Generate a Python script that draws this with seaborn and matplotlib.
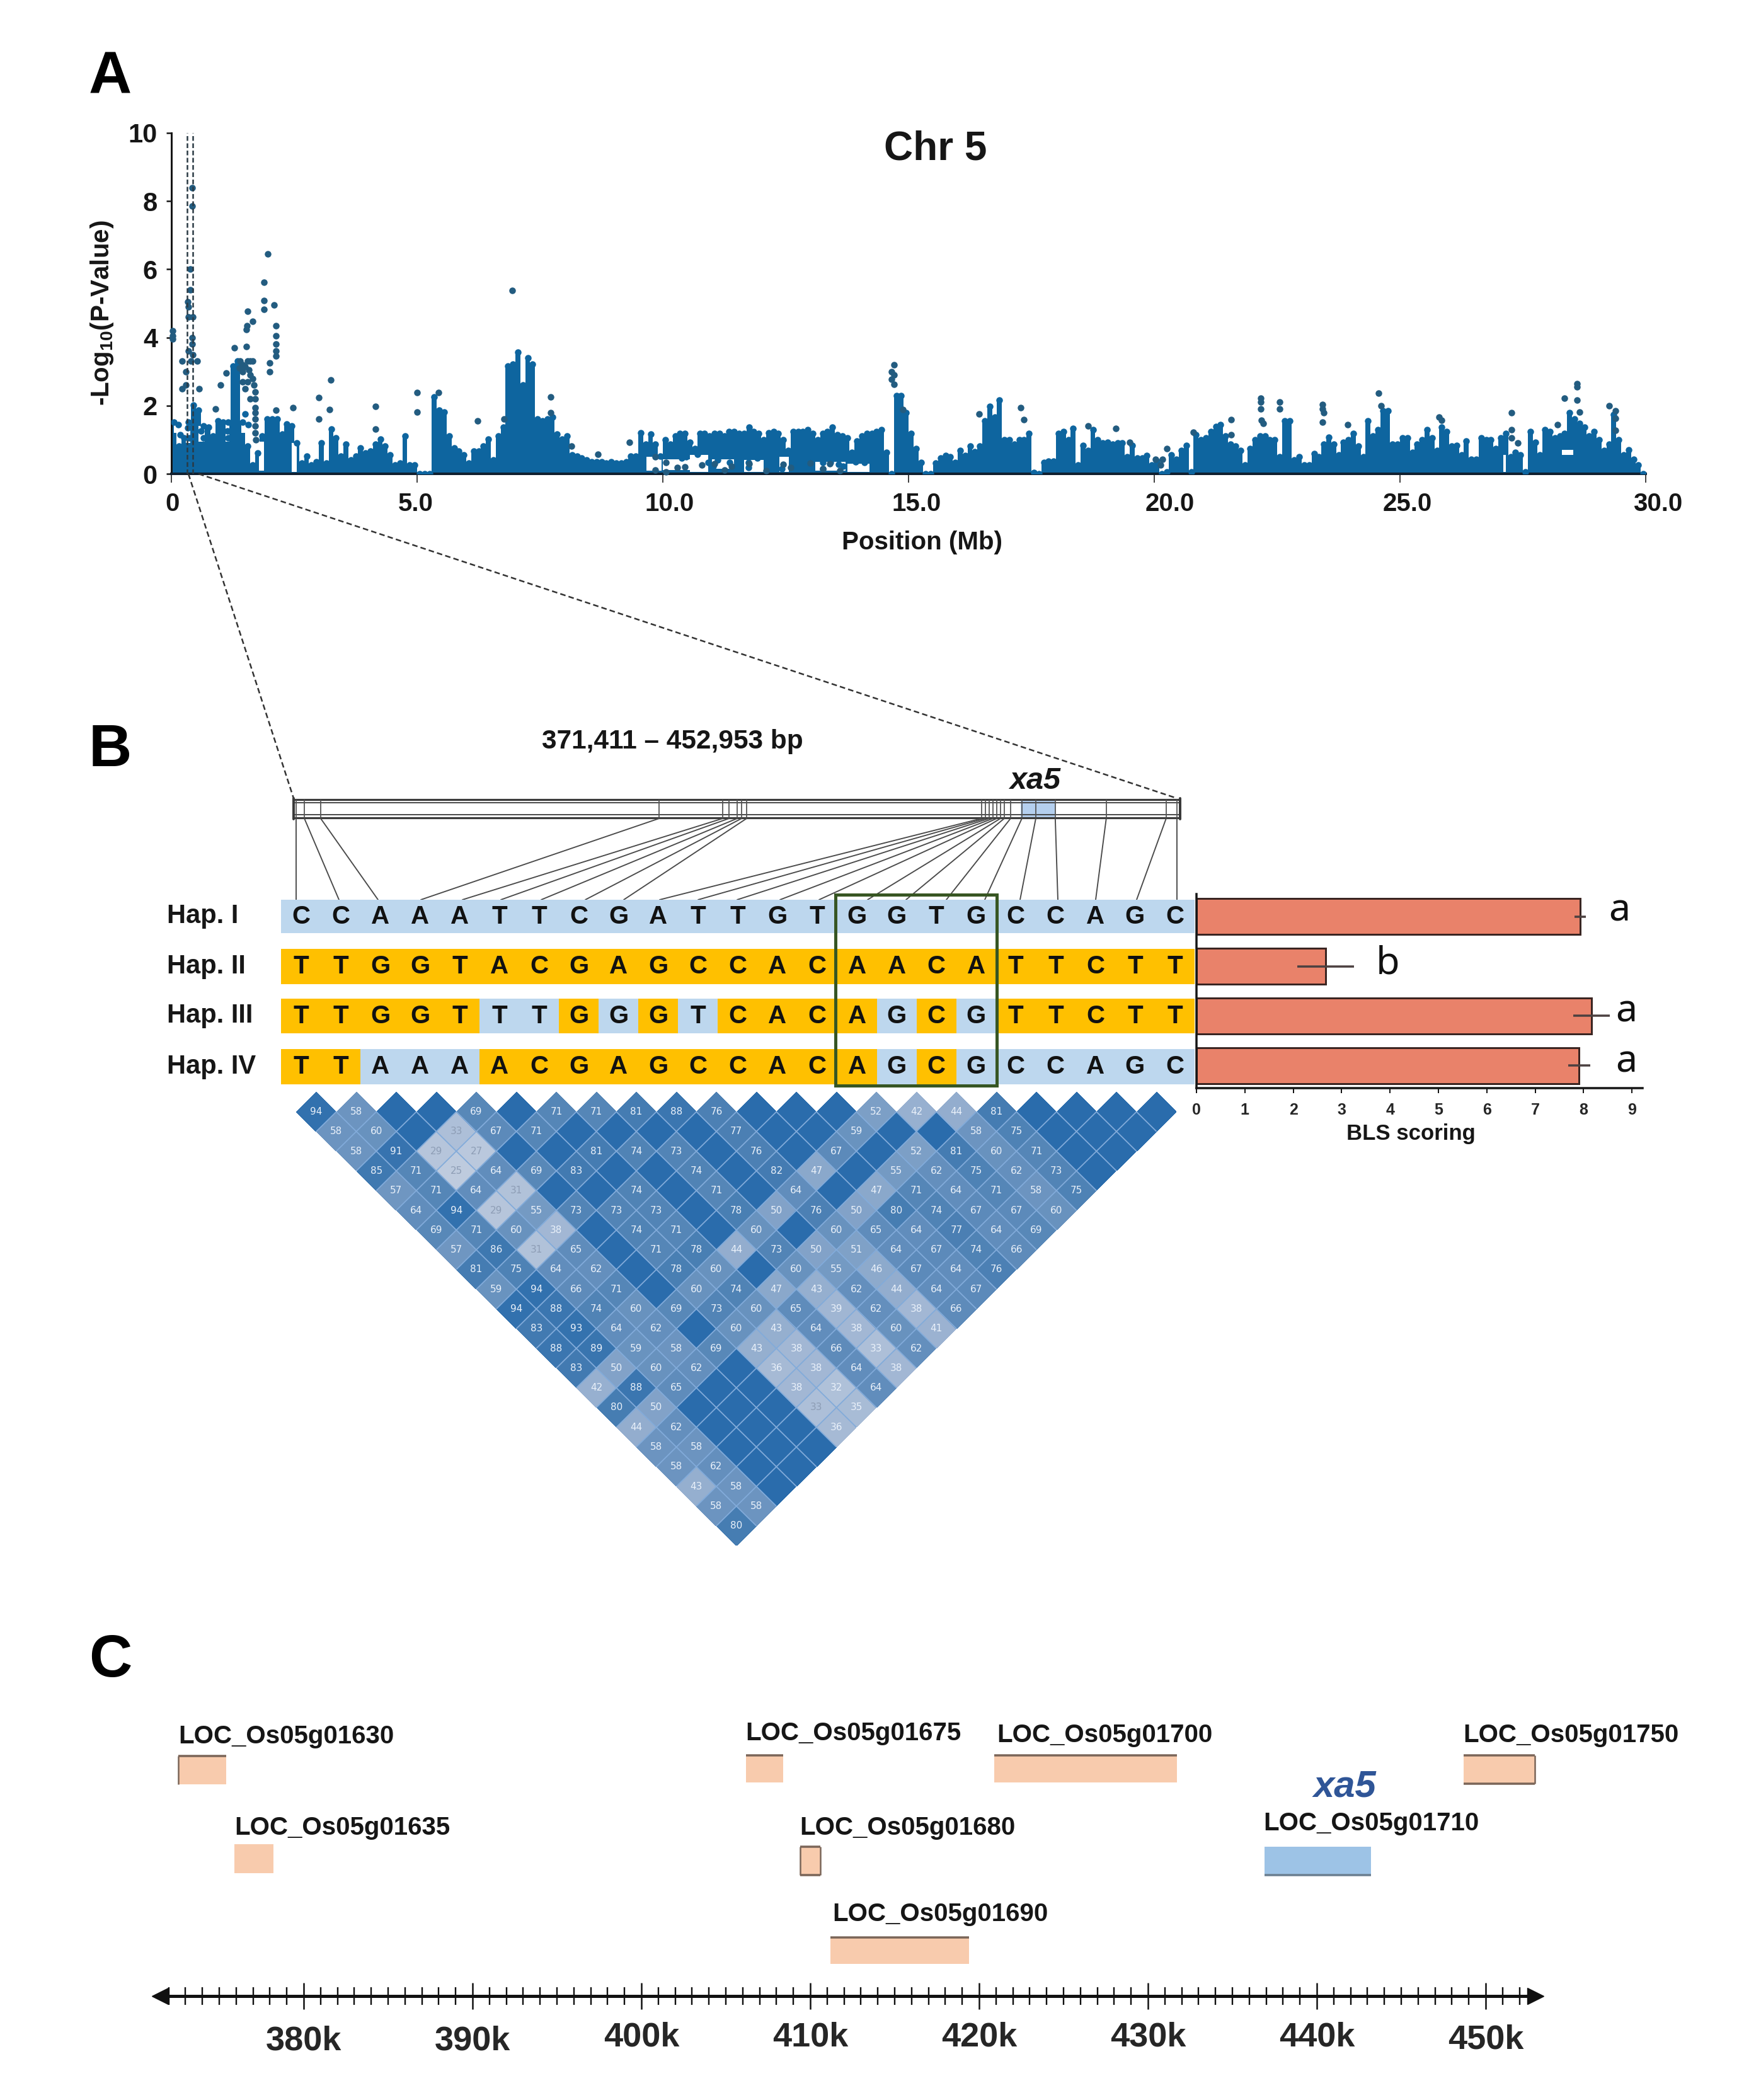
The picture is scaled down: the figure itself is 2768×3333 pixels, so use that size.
import numpy as np
import pandas as pd
import matplotlib
matplotlib.use("Agg")
import matplotlib.pyplot as plt
from matplotlib.colors import LinearSegmentedColormap, ListedColormap
from matplotlib.patches import Rectangle
from matplotlib.transforms import Affine2D, ScaledTranslation
import seaborn as sns

# ---------- Panel A data ----------
envelope = [
 1.60,0.90,1.15,1.60,2.10,1.95,1.50,1.45,1.20,1.65,
 1.60,1.60,3.25,3.40,1.60,0.90,0.35,0.70,1.20,1.70,
 1.70,1.70,1.25,1.55,1.50,1.00,.40,.60,.35,.45,
 1.00,.40,1.40,1.15,.60,.95,.50,.60,.85,.70,
 .75,.95,1.10,.90,.65,.35,.40,1.20,.35,.35,
 .03,.03,.03,2.35,1.95,1.90,1.20,.85,.75,.65,
 .40,.75,.75,.90,1.10,.50,1.20,1.45,3.25,3.30,
 3.65,2.70,3.50,3.30,1.70,1.65,1.70,1.75,1.25,1.10,
 1.20,.65,.60,.55,.50,.45,.45,.45,.40,.45,
 .40,.40,.45,.60,.60,1.30,.95,1.25,.95,.60,
 1.08,.96,1.20,1.27,1.27,1.02,.83,1.27,1.27,1.20,
 1.27,1.27,1.20,1.33,1.33,1.27,1.27,1.45,1.33,1.27,
 1.08,1.30,1.33,1.27,1.08,.77,1.33,1.33,1.33,1.39,
 1.27,1.08,1.27,1.33,1.45,1.23,1.20,1.14,.71,1.05,
 1.20,1.27,1.27,1.33,1.39,.71,.09,2.38,2.38,1.88,
 1.27,.83,.43,.09,.09,.40,.56,.62,.59,.43,
 .77,.62,.90,.74,.90,1.64,2.07,1.76,2.25,1.08,
 1.08,.96,1.08,1.08,1.27,.12,.06,.43,.46,.46,
 1.27,1.33,1.08,1.42,.34,.93,.77,1.39,1.08,.99,
 1.02,.96,.99,.99,.59,.93,.56,.56,.62,.34,
 .46,.09,.15,.65,.52,.77,.93,.15,1.23,1.08,
 1.14,1.33,1.48,1.54,1.20,.96,.90,.77,.34,.83,
 1.08,1.20,1.20,1.08,1.08,.59,1.64,1.64,.49,.59,
 .34,.34,.68,.59,.96,1.17,.96,.65,1.02,1.08,
 1.27,.90,.59,1.64,1.20,1.39,1.94,1.94,.96,.96,
 1.14,1.14,.71,.96,1.08,1.39,1.14,.77,1.45,1.33,
 .90,.93,.65,1.05,.52,.52,1.14,1.08,1.08,.83,
 1.14,1.27,.59,.71,.65,.15,1.33,1.02,.65,1.39,
 1.33,1.14,1.20,1.27,1.88,1.70,1.57,1.45,1.20,1.33,
 1.08,.77,.96,1.82,1.08,.65,.80,.52,.34,.09]

peak_pos = [1.96,1.89,1.89,1.89,2.09,2.13,2.13,2.13,2.13,2.13,2.00,2.00,1.55,1.54,1.53,1.66,1.28,1.53,
 6.94,.03,.03,.03,.42,.42,.38,.38,.33,.35,.42,.42,.40,.52,.22,.22,.56,.30,.30,.34,.44,.34,.44,
 3.24,3.00,3.22,3.00,4.16,4.16,5.00,5.00,5.43,6.23,6.77,7.72,7.72,2.47,2.13,1.00,1.12,.90,
 1.40,1.38,1.45,1.50,1.45,1.55,1.60,1.65,1.58,1.60,1.65,1.68,1.70,1.70,1.60,1.70,1.70,1.70,1.70,1.70,1.72,1.45,1.50,1.55,
 8.14,8.68,9.32,9.84,9.84,10.06,10.06,10.30,10.45,10.8,11.05,11.25,11.4,11.75,12.1,12.45,12.6,13.0,13.25,13.4,13.6,
 14.71,14.65,14.71,14.65,14.71,14.88,17.28,17.34,16.43,18.65,19.22,19.50,20.03,20.17,20.13,20.25,20.79,
 21.56,21.56,22.17,22.17,22.17,22.18,22.22,22.55,22.55,24.56,24.61,23.42,23.42,23.45,23.42,23.93,
 27.27,27.27,27.27,27.40,28.35,28.60,28.60,28.60,28.66,28.20,29.25,29.38,29.38,29.38,25.80,25.85]
peak_val = [6.46,5.62,5.08,4.83,4.96,4.34,4.04,3.80,3.60,3.45,3.25,3.00,4.76,4.34,4.24,4.47,3.70,3.74,
 5.38,4.20,3.95,4.05,7.85,8.40,5.40,6.00,5.05,4.60,4.00,3.80,3.30,3.30,3.30,2.50,2.50,3.00,2.60,3.60,4.60,4.90,3.50,
 2.75,2.23,1.88,1.60,1.98,1.32,2.38,1.81,2.38,1.56,1.60,2.25,1.80,1.94,1.86,2.60,2.95,1.90,
 3.30,3.10,3.20,3.15,3.00,3.30,3.30,3.30,3.05,2.90,2.80,2.60,2.40,2.20,2.20,1.95,1.80,1.60,1.40,1.20,1.00,2.70,2.50,2.70,
 .82,.57,.93,.50,.12,.34,.06,.19,.20,.25,.30,.12,.22,.30,.10,.28,.18,.32,.15,.30,.10,
 3.20,3.00,2.90,2.78,2.62,1.88,1.94,1.59,1.76,1.41,1.34,.93,.43,.43,.25,.74,1.22,
 1.59,1.14,2.22,2.10,1.91,1.57,1.48,2.10,1.91,2.36,1.99,2.04,1.91,1.79,1.51,1.45,
 1.80,1.30,1.05,.90,2.22,2.65,2.56,2.16,1.82,1.45,2.00,1.85,1.62,1.27,1.67,1.58]

# points hanging below the dense band between 10 and 14.5 Mb
band_pos = [10.39,10.48,10.70,10.92,11.02,11.12,11.36,11.55,11.74,11.74,11.92,12.18,12.25,12.42,12.73,12.83,
            13.02,13.02,13.26,13.26,13.41,13.58,13.67,13.92,14.10,14.30,14.40,
            0.14,0.18,0.33,0.36,0.60,0.66,1.14,1.16,1.50,1.56]
band_val = [.46,.50,.58,.34,.22,.40,.34,.44,.34,.19,.46,.22,.34,.15,.43,.22,
            .34,.15,.34,.15,.34,.28,.22,.36,.33,.28,.15,
            1.45,1.15,1.35,1.05,1.25,1.05,1.25,1.05,1.75,1.45]

hole_start = [0.05,0.30,0.55,1.10,1.42,1.78,2.45,9.67,10.00,10.55,11.00,11.65,12.37,13.10,13.75,27.10,27.50,28.30]
hole_end   = [0.12,0.38,0.68,1.18,1.60,1.88,2.55,9.98,10.55,10.92,11.45,12.05,12.56,13.72,14.20,27.16,27.58,28.52]
hole_low   = [1.20,0.90,0.95,0.95,1.20,0.10,0.05,0.10,0.12,0.05,0.15,0.05,0.05,0.10,0.05,0.05,0.05,0.55]
hole_high  = [2.00,1.60,1.40,1.45,2.20,0.95,0.90,0.50,0.42,0.55,0.42,0.40,0.50,0.35,0.30,0.55,0.60,0.70]

chrom_ticks = [0, 5, 10, 15, 20, 25, 30]
chrom_labels = ["0", "5.0", "10.0", "15.0", "20.0", "25.0", "30.0"]
p_ticks = [0, 2, 4, 6, 8, 10]
region_mb = [0.315, 0.44]

# ---------- Panel B data ----------
hap_names = ["Hap. I", "Hap. II", "Hap. III", "Hap. IV"]
hap_seqs = ["CCAAATTCGATTGTGGTGCCAGC",
            "TTGGTACGAGCCACAACATTCTT",
            "TTGGTTTGGGTCACAGCGTTCTT",
            "TTAAAACGAGCCACAGCGCCAGC"]
bls_mean = [7.93, 2.67, 8.16, 7.91]
bls_err = [0.12, 0.59, 0.38, 0.23]
bls_group = ["a", "b", "a", "a"]
bls_ticks = list(range(10))
snp_kb = [371.64,372.40,373.90,405.03,410.88,411.46,412.21,412.62,413.08,
          434.69,435.04,435.39,435.74,436.08,436.43,436.78,437.36,438.40,
          439.68,441.47,446.16,451.67,452.66]
region_kb = [371.411, 452.953]
xa5_kb = [438.3, 441.5]

ld_rows = [
 [94,58,100,100,69,100,71,71,81,88,76,100,100,100,52,42,44,81,100,100,100,100],
 [58,60,100,33,67,71,100,100,100,100,77,100,100,59,100,100,58,75,100,100,100],
 [58,91,29,27,100,100,81,74,73,100,76,100,67,100,52,81,60,71,100,100],
 [85,71,25,64,69,83,100,100,74,100,82,47,100,55,62,75,62,73,100],
 [57,71,64,31,100,100,74,100,71,100,64,100,47,71,64,71,58,75],
 [64,94,29,55,73,73,73,100,78,50,76,50,80,74,67,67,60],
 [69,71,60,38,100,74,71,100,60,100,60,65,64,77,64,69],
 [57,86,31,65,100,71,78,44,73,50,51,64,67,74,66],
 [81,75,64,62,100,78,60,100,60,55,46,67,64,76],
 [59,94,66,71,100,60,74,47,43,62,44,64,67],
 [94,88,74,60,69,73,60,65,39,62,38,66],
 [83,93,64,62,100,60,43,64,38,60,41],
 [88,89,59,58,69,43,38,66,33,62],
 [83,50,60,62,100,36,38,64,38],
 [42,88,65,100,100,38,32,64],
 [80,50,100,100,100,33,35],
 [44,62,100,100,100,36],
 [58,58,100,100,100],
 [58,62,100,100],
 [43,58,100],
 [58,58],
 [80]]

# ---------- Panel C data ----------
gene_names = ["LOC_Os05g01630","LOC_Os05g01635","LOC_Os05g01675","LOC_Os05g01680",
              "LOC_Os05g01690","LOC_Os05g01700","LOC_Os05g01710","LOC_Os05g01750"]
gene_start = [372.57,375.90,406.20,409.40,411.20,420.90,436.90,448.70]
gene_end   = [375.41,378.20,408.40,410.60,419.40,431.70,443.20,452.90]
scale_major = [380,390,400,410,420,430,440,450]
scale_labels = ["380k","390k","400k","410k","420k","430k","440k","450k"]

# ---------- Layout (pixels in the 2768x3333 figure) ----------
W, H = 2768, 3333
DPI = 100
sns.set_style("white")
plt.rcParams["font.family"] = ["Liberation Sans", "DejaVu Sans"]
plt.rcParams["mathtext.fontset"] = "custom"
plt.rcParams["mathtext.bf"] = "Liberation Sans:bold"
plt.rcParams["mathtext.rm"] = "Liberation Sans:bold"
INK = "#161616"

fig = plt.figure(figsize=(W / DPI, H / DPI), dpi=DPI, facecolor="white")

def add_px_axes(x0, y0, x1, y1):
    return fig.add_axes([x0 / W, 1 - y1 / H, (x1 - x0) / W, (y1 - y0) / H])

def px(v):
    return v * 72 / DPI

def shift(label, dx=0, dy=0):
    label.set_transform(label.get_transform() +
                        ScaledTranslation(dx / DPI, -dy / DPI, fig.dpi_scale_trans))

# ---------- Panel A ----------
axA = add_px_axes(272, 211, 2612, 752)
MASS = "#0E659F"
DOT = "#235C80"
bin_x = np.arange(len(envelope)) * 0.1
env = np.array(envelope)
top = np.clip(env - 0.09, 0, None)
axA.bar(bin_x, top, width=0.1, align="edge", color=MASS, linewidth=0, zorder=1)
for s, e, lo, hi in zip(hole_start, hole_end, hole_low, hole_high):
    axA.add_patch(Rectangle((s, lo), e - s, hi - lo, fc="white", ec="none", zorder=2))
sns.scatterplot(x=bin_x + 0.05, y=top, s=px(10.5) ** 2, color=MASS, linewidth=0, ax=axA, zorder=3, clip_on=True)
sns.scatterplot(x=band_pos, y=band_val, s=px(10.5) ** 2, color=MASS, linewidth=0, ax=axA, zorder=3, clip_on=True)
sns.scatterplot(x=peak_pos, y=peak_val, s=px(10.5) ** 2, color=DOT, linewidth=0, ax=axA, zorder=4, clip_on=False)
for r in region_mb:
    axA.plot([r, r], [0, 10], color="#2b3a44", lw=px(2.5), dashes=(3, 1.6), zorder=5)
axA.set_xlim(0, 30)
axA.set_ylim(0, 10)
axA.set_xticks(chrom_ticks, chrom_labels)
axA.set_yticks(p_ticks, [str(t) for t in p_ticks])
axA.tick_params(axis="x", length=px(14), width=px(2), pad=px(15), labelsize=29, bottom=True, color="#444")
axA.tick_params(axis="y", length=px(8), width=px(2.5), pad=px(14), labelsize=30, left=True, color=INK)
for lab in axA.get_xticklabels() + axA.get_yticklabels():
    lab.set_fontweight("bold")
    lab.set_color(INK)
for lab, dx in zip(axA.get_xticklabels(), [2, -2, 11, 13, 25, 12, 19]):
    shift(lab, dx=dx)
sns.despine(ax=axA)
axA.spines["left"].set_linewidth(px(3))
axA.spines["left"].set_color(INK)
axA.spines["bottom"].set_linewidth(px(4))
axA.spines["bottom"].set_color("#102030")
axA.patch.set_alpha(0)

# ---------- Overlay axes for annotation ----------
ov = fig.add_axes([0, 0, 1, 1], zorder=0)
ov.set_xlim(0, W)
ov.set_ylim(H, 0)
ov.axis("off")

def kb_to_px(k):
    return 466 + (np.asarray(k) - region_kb[0]) / (region_kb[1] - region_kb[0]) * 1407

def T(x, y, s, size, ha="center", va="center", weight="bold", style="normal", color=INK, family=None, rot=0):
    kw = {"family": family} if family else {}
    ov.text(x, y, s, fontsize=size, ha=ha, va=va, fontweight=weight, fontstyle=style,
            color=color, rotation=rot, **kw)

T(175, 124, "A", 68, color="#000000")
T(175, 1192, "B", 68, color="#000000")
T(175, 2637, "C", 68, color="#000000")
T(1485, 236, "Chr 5", 46)
T(162, 497, r"-Log$_{\mathbf{10}}$(P-Value)", 29, rot=90)
T(1463, 861, "Position (Mb)", 29)
T(1067, 1177, "371,411 \u2013 452,953 bp", 30.5)
T(1643, 1240, "xa5", 35, style="italic")
T(2239, 1800, "BLS scoring", 25)

# zoom guides
dash_kw = dict(color="#333333", lw=px(2.5), dashes=(3.5, 2))
ov.plot([299, 466], [752, 1267], **dash_kw)
ov.plot([315, 1868], [752, 1267], **dash_kw)

# region bar
x0, x1 = kb_to_px(region_kb)
ov.add_patch(Rectangle((x0, 1269), x1 - x0, 28, fc="white", ec="none"))
ov.add_patch(Rectangle((kb_to_px(xa5_kb[0]), 1269), kb_to_px(xa5_kb[1]) - kb_to_px(xa5_kb[0]), 28,
                       fc="#B4CFEE", ec="none"))
for yy in (1269, 1274, 1293, 1298):
    ov.plot([x0, x1], [yy, yy], color="#3a3a3a", lw=px(3.2 if yy in (1269, 1298) else 1.8), solid_capstyle="butt")
for xx in (x0, x1):
    ov.plot([xx, xx], [1267, 1300], color="#3a3a3a", lw=px(4))

# links from SNP positions to haplotype columns
link_top = [470,538,600,668,734,795,859,929,990,1047,1108,1170,1238,1300,
            1377,1438,1502,1563,1619,1679,1739,1804,1868]
for k, t in zip(snp_kb, link_top):
    sx = kb_to_px(k)
    ov.plot([sx, sx], [1270, 1297], color="#555555", lw=px(1.8))
    ov.plot([sx, t], [1299, 1428], color="#4a4a4a", lw=px(1.9))

# haplotype rows
blue, orange = "#BDD7EE", "#FFC000"
band_y = [(1428, 1481), (1506, 1562), (1585, 1640), (1665, 1721)]
reference = hap_seqs[0]
for name, seq, (ya, yb) in zip(hap_names, hap_seqs, band_y):
    ax = add_px_axes(446, ya, 1896, yb)
    state = np.array([[int(c != r) for c, r in zip(seq, reference)]])
    sns.heatmap(state, annot=np.array([list(seq)]), fmt="", cmap=ListedColormap([blue, orange]),
                vmin=0, vmax=1, cbar=False, ax=ax, xticklabels=False, yticklabels=False,
                annot_kws={"fontsize": 29, "fontweight": "bold", "color": "#111111"})
    T(265, (ya + yb) / 2, name, 30, ha="left")

# green selection box (drawn above the haplotype axes)
top_ov = fig.add_axes([0, 0, 1, 1], zorder=5)
top_ov.set_xlim(0, W)
top_ov.set_ylim(H, 0)
top_ov.axis("off")
top_ov.add_patch(Rectangle((1326, 1420), 256, 303, fc="none", ec="#375623", lw=px(5)))

# BLS bars
axB = add_px_axes(1899, 1419, 2607, 1727)
bls_df = pd.DataFrame({"hap": hap_names, "score": bls_mean})
sns.barplot(data=bls_df, x="score", y="hap", orient="h", color="#E9826A", saturation=1, width=0.72,
            edgecolor="#3a2522", linewidth=px(3), errorbar=None, ax=axB)
axB.errorbar(bls_mean, range(4), xerr=bls_err, fmt="none", ecolor="#4b4040", elinewidth=px(3.5))
axB.set_xlim(0, (2607 - 1899) / 76.8)
axB.set_ylim(3.45, -0.45)
axB.set_xticks(bls_ticks, [str(t) for t in bls_ticks])
axB.set_yticks([])
axB.set_xlabel("")
axB.set_ylabel("")
axB.tick_params(axis="x", length=px(8), width=px(2), pad=px(15), labelsize=18, bottom=True, color=INK)
for lab in axB.get_xticklabels():
    lab.set_fontweight("bold")
sns.despine(ax=axB)
axB.spines["left"].set_linewidth(px(3.5))
axB.spines["left"].set_color(INK)
axB.spines["bottom"].set_linewidth(px(3.5))
axB.spines["bottom"].set_color(INK)
axB.patch.set_alpha(0)
for g, gx, gy in zip(bls_group, [2570, 2203, 2581, 2581], [1446, 1530, 1606, 1686]):
    T(gx, gy, g, 44, weight="normal", family="Noto Sans", color="#111111")

# LD triangle: a seaborn heatmap of the upper triangle, rotated by 45 degrees
n = len(ld_rows)
ld = np.full((n, n), np.nan)
for r, row in enumerate(ld_rows):
    for i, v in enumerate(row):
        ld[i, i + r] = v
ld_cmap = LinearSegmentedColormap.from_list(
    "ld", [(0.0, "#BECBDE"), (0.2, "#9DB4D2"), (0.45, "#6A93BF"), (0.7, "#4A7FB3"), (1.0, "#2A6CAC")])
axLD = fig.add_axes([0, 0, 1, 1], zorder=1)
sns.heatmap(ld, mask=np.isnan(ld), cmap=ld_cmap, vmin=25, vmax=100, cbar=False, ax=axLD,
            linewidths=0, xticklabels=False, yticklabels=False, square=False)
axLD.set_xlim(0, W)
axLD.set_ylim(H, 0)
axLD.axis("off")
axLD.patch.set_alpha(0)
half_w, half_h = 31.75, 31.3
to_px = Affine2D.from_values(half_w, half_h, half_w, -half_h, 502 - half_w, 1764.5)
axLD.collections[0].set_transform(to_px + axLD.transData)
grid_kw = dict(color="#82ABDA", lw=px(1.8), transform=to_px + axLD.transData, solid_capstyle="butt")
for k in range(1, n):
    axLD.plot([k, n], [k, k], **grid_kw)      # lines of constant row
    axLD.plot([k, k], [0, k], **grid_kw)      # lines of constant column
for r, row in enumerate(ld_rows):
    for i, v in enumerate(row):
        if v < 100:
            axLD.text(i + r + 0.5, i + 0.5, str(v), transform=to_px + axLD.transData, ha="center", va="center",
                      fontsize=11, family="DejaVu Sans",
                      color="#8d9db5" if v < 34 and i < 6 else "#EAF1FA")

# ---------- Panel C ----------
axC = fig.add_axes([0, 0, 1, 1], zorder=2)
kb_per_px = 1 / 26.8
axC.set_xlim(380 - 482 * kb_per_px, 380 + (W - 482) * kb_per_px)
axC.set_ylim(H, 0)
axC.patch.set_alpha(0)
for sp in ("top", "left", "right"):
    axC.spines[sp].set_visible(False)
axC.spines["bottom"].set_position(("data", 3168))
axC.spines["bottom"].set_bounds(371.6, 452.9)
axC.spines["bottom"].set_linewidth(px(5))
axC.spines["bottom"].set_color("#111111")
axC.set_yticks([])
axC.set_xticks(scale_major, scale_labels)
axC.set_xticks(np.arange(372, 453), minor=True)
axC.tick_params(axis="x", which="major", direction="inout", length=px(42), width=px(2.5), pad=px(20),
                labelsize=39, bottom=True, color="#111111")
axC.tick_params(axis="x", which="minor", direction="inout", length=px(27), width=px(2.4), bottom=True, color="#111111")
for lab, dy in zip(axC.get_xticklabels(), [6, 6, 0, 0, 0, 0, 0, 4]):
    lab.set_fontweight("bold")
    shift(lab, dy=dy)
axC.plot([371.5], [3168], marker="<", ms=px(26), color="#111111", clip_on=False)
axC.plot([452.95], [3168], marker=">", ms=px(26), color="#111111", clip_on=False)

gene_y = [(2787, 2832), (2927, 2973), (2786, 2829), (2931, 2976),
          (3075, 3117), (2786, 2829), (2931, 2976), (2786, 2831)]
label_pos = [(283, 2756), (372, 2901), (1183, 2751), (1269, 2901),
             (1321, 3038), (1582, 2754), (2005, 2894), (2322, 2754)]
# which sides of each box show a darker rim in the print: t, b, l, r
gene_rim = ["tl", "", "t", "tblr", "t", "t", "b", "tbr"]
for name, s, e, (ya, yb), (lx, ly), rim in zip(gene_names, gene_start, gene_end, gene_y, label_pos, gene_rim):
    is_target = name.endswith("1710")
    fc = "#9DC3E6" if is_target else "#F8CBAD"
    rc = "#6b7f90" if is_target else "#7a6558"
    axC.barh((ya + yb) / 2, e - s, left=s, height=yb - ya, color=fc, edgecolor="none")
    if "t" in rim:
        axC.plot([s, e], [ya, ya], color=rc, lw=px(3.5), solid_capstyle="butt")
    if "b" in rim:
        axC.plot([s, e], [yb, yb], color=rc, lw=px(3.5), solid_capstyle="butt")
    if "l" in rim:
        axC.plot([s, s], [ya, yb], color=rc, lw=px(2.5), solid_capstyle="butt")
    if "r" in rim:
        axC.plot([e, e], [ya, yb], color=rc, lw=px(2.5), solid_capstyle="butt")
    axC.text(380 + (lx - 482) * kb_per_px, ly, name, fontsize=29, fontweight="bold",
             ha="left", va="center", color=INK)
axC.text(380 + (2134 - 482) * kb_per_px, 2836, "xa5", fontsize=43, fontweight="bold", fontstyle="italic",
         color="#2F5597", ha="center", va="center")

fig.savefig("out.png", dpi=DPI, facecolor="white")
